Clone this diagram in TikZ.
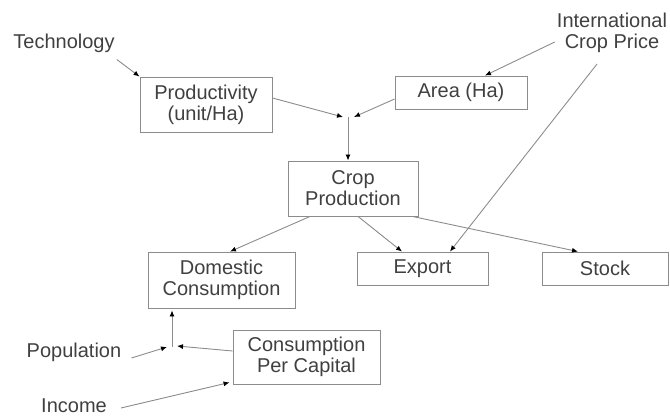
\documentclass[tikz,border=0pt]{standalone}
\usepackage{fontspec}
\setmainfont{Liberation Sans}
\usetikzlibrary{calc,arrows.meta}

\definecolor{txtgray}{HTML}{404040}
\definecolor{linegray}{HTML}{8C8C8C}

\tikzset{
  box/.style={draw=linegray,line width=0.9pt,align=center,inner sep=0pt,text=txtgray},
  lbl/.style={align=center,inner sep=0pt,text=txtgray},
  arr/.style={draw=linegray,line width=0.9pt,-{Latex[length=6pt,width=5pt,color=black]}}
}

\begin{document}
\begin{tikzpicture}[x=1pt,y=-1pt,font=\fontsize{20}{21}\selectfont]

  \useasboundingbox (0,0) rectangle (670,417);

  % boxes
  \node[box,minimum width=132pt,minimum height=55pt] (prod) at (206,104.5) {Productivity\\(unit/Ha)};
  \node[box,minimum width=132pt,minimum height=33pt] (area) at (461,92.5) {Area (Ha)};
  \node[box,minimum width=130pt,minimum height=55pt] (crop) at (353,188.5) {Crop\\Production};
  \node[box,minimum width=147pt,minimum height=56pt] (dom) at (221.5,280) {Domestic\\Consumption};
  \node[box,minimum width=131pt,minimum height=33pt] (export) at (422.5,268.5) {Export};
  \node[box,minimum width=126pt,minimum height=33pt] (stock) at (605,268.5) {Stock};
  \node[box,minimum width=147pt,minimum height=54pt] (cpc) at (306.5,357) {Consumption\\Per Capital};

  % free labels
  \node[lbl] (tech) at (64,43) {Technology};
  \node[lbl] (intl) at (612,33) {International\\Crop Price};
  \node[lbl] (pop) at (74,352) {Population};
  \node[lbl] (inc) at (74,406) {Income};

  % junctions
  \coordinate (jtop) at (348,117);
  \coordinate (jtopL) at (343,117);
  \coordinate (jtopR) at (354,117);
  \coordinate (jbot) at (172,347);
  \coordinate (jbotL) at (167,347);
  \coordinate (jbotR) at (177,346);

  % production side
  \draw[arr] ([xshift=2pt,yshift=-7pt]tech.south east) -- (prod.north west);
  \draw[arr] ([yshift=6.5pt]prod.east) -- (jtopL);
  \draw[arr] ([yshift=-6.5pt]area.west) -- (jtopR);
  \draw[arr] ([xshift=-2pt]intl.west |- 0,42) -- ([xshift=24pt]area.north);
  \draw[arr] (jtop) -- (crop.north -| jtop);

  % uses of production
  \draw[arr] ([xshift=-43pt]crop.south) -- ([xshift=8.5pt]dom.north);
  \draw[arr] ([xshift=5pt]crop.south) -- ([xshift=-20.5pt]export.north);
  \draw[arr] ([xshift=-6pt]crop.south east) -- ([xshift=-27pt]stock.north);
  \draw[arr] ([xshift=-15pt,yshift=-11pt]intl.south) -- ([xshift=27.5pt]export.north);

  % consumption side
  \draw[arr] (jbot) -- ([yshift=-2pt]dom.south -| jbot);
  \draw[arr] ([xshift=10pt,yshift=-6pt]pop.east) -- (jbotL);
  \draw[arr] ([yshift=6pt]cpc.west) -- (jbotR);
  \draw[arr] ([xshift=14pt,yshift=-2pt]inc.east) -- ([xshift=-3pt,yshift=2pt]cpc.south west);

\end{tikzpicture}
\end{document}
